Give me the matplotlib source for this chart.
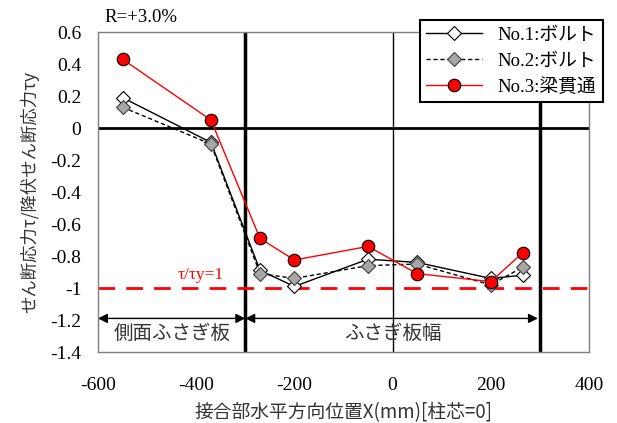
import matplotlib.pyplot as plt

# フォント設定
plt.rcParams['font.family'] = ['Liberation Serif', 'Noto Sans CJK JP']

# データ
x = [-550, -370, -270, -200, -50, 50, 200, 265]
no1 = [0.19, -0.09, -0.89, -0.99, -0.82, -0.84, -0.94, -0.92]
no2 = [0.13, -0.10, -0.91, -0.94, -0.86, -0.85, -0.98, -0.87]
no3 = [0.43, 0.05, -0.69, -0.825, -0.74, -0.91, -0.96, -0.78]
labels = ["No.1:ボルト", "No.2:ボルト", "No.3:梁貫通"]

xticks = [-600, -400, -200, 0, 200, 400]
yticks = [0.6, 0.4, 0.2, 0, -0.2, -0.4, -0.6, -0.8, -1, -1.2, -1.4]
ytick_labels = ["0.6", "0.4", "0.2", "0", "-0.2", "-0.4", "-0.6", "-0.8", "-1", "-1.2", "-1.4"]

jp = ['Noto Sans CJK JP', 'DejaVu Sans']

fig = plt.figure(figsize=(6.17, 4.23), dpi=100)
ax = fig.add_axes([0.1588, 0.1678, 0.7958, 0.7565])

# 基準線
ax.axhline(0, color='black', lw=2, zorder=1)
ax.axvline(0, color='black', lw=1, zorder=1)
ax.axvline(-300, color='black', lw=2.5, zorder=1)
ax.axvline(300, color='black', lw=2.5, zorder=1)
ax.axhline(-1, color='#ff0000', lw=2, ls=(0, (6, 4)), zorder=1)

ax.plot(x, no1, color='black', lw=1, marker='D', markersize=7,
        markerfacecolor='white', markeredgecolor='black', markeredgewidth=0.8,
        label=labels[0], zorder=3)
ax.plot(x, no2, color='black', lw=1, ls=(0, (3, 2)), marker='D', markersize=7,
        markerfacecolor='#a6a6a6', markeredgecolor='#404040', markeredgewidth=0.8,
        label=labels[1], zorder=3)
ax.plot(x, no3, color='#ff0000', lw=1, marker='o', markersize=9,
        markerfacecolor='#ff0000', markeredgecolor='black', markeredgewidth=0.8,
        label=labels[2], zorder=4)

# 範囲の矢印
ax.annotate('', xy=(-600, -1.19), xytext=(-300, -1.19),
            arrowprops=dict(arrowstyle='<|-|>', color='black', lw=1,
                            shrinkA=0, shrinkB=0, mutation_scale=14))
ax.annotate('', xy=(-300, -1.19), xytext=(296, -1.19),
            arrowprops=dict(arrowstyle='<|-|>', color='black', lw=1,
                            shrinkA=0, shrinkB=0, mutation_scale=14))
ax.text(-450, -1.285, "側面ふさぎ板", family=jp, fontsize=14,
        ha='center', va='center', color='#333333')
ax.text(0, -1.285, "ふさぎ板幅", family=jp, fontsize=14,
        ha='center', va='center', color='#333333')
ax.text(-390, -0.92, "τ/τy=1", fontsize=12.5, color='#ff0000',
        ha='center', va='center')

ax.set_xlim(-600, 400)
ax.set_ylim(-1.4, 0.6)
ax.set_xticks(xticks)
ax.set_xticklabels([str(v) for v in xticks])
ax.set_yticks(yticks)
ax.set_yticklabels(ytick_labels)
ax.tick_params(axis='both', length=0, labelsize=14)
ax.tick_params(axis='y', pad=12)
ax.tick_params(axis='x', pad=18)

for s in ax.spines.values():
    s.set_color('#7f7f7f')
    s.set_linewidth(1)

ax.set_xlabel("接合部水平方向位置X(mm)[柱芯=0]", family=jp, fontsize=13.5,
              color='#333333', labelpad=6)
ax.set_ylabel("せん断応力τ/降伏せん断応力τy", family=jp, fontsize=12.5,
              color='#333333', labelpad=8)

fig.text(104 / 617, 1 - 17 / 423, "R=+3.0%", fontsize=13.5, va='center', ha='left')

leg = fig.legend(loc='upper right', bbox_to_anchor=(612 / 617, 1 - 11 / 423),
                 fancybox=False, edgecolor='black', framealpha=1,
                 handlelength=3.0, borderpad=0.35, labelspacing=0.45,
                 prop={'family': ['Liberation Serif', 'Noto Sans CJK JP'], 'size': 13.5})
leg.get_frame().set_linewidth(1.5)

fig.savefig("out.png", dpi=100)
